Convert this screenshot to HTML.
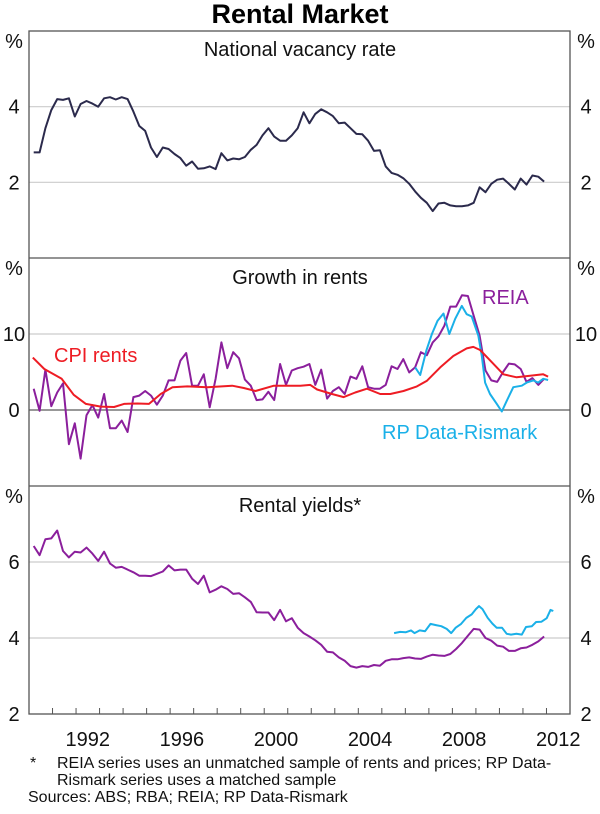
<!DOCTYPE html>
<html><head><meta charset="utf-8"><style>
html,body{margin:0;padding:0;background:#fff;}
body{width:600px;height:809px;overflow:hidden;font-family:"Liberation Sans",Arial,sans-serif;}
svg text{font-family:"Liberation Sans",Arial,sans-serif;}
</style></head><body>
<svg id="chart" width="600" height="809" viewBox="0 0 600 809" xmlns="http://www.w3.org/2000/svg">
<text x="300" y="23" text-anchor="middle" font-size="27" font-weight="bold" fill="#000">Rental Market</text>
<g id="grid"></g>
<g id="series"></g>
<g id="frame"></g>
<g id="labels"></g>
<text x="300" y="56" text-anchor="middle" font-size="20" fill="#111">National vacancy rate</text>
<text x="300" y="284" text-anchor="middle" font-size="20" fill="#111">Growth in rents</text>
<text x="300" y="512" text-anchor="middle" font-size="20" fill="#111">Rental yields*</text>
<text x="482" y="304" font-size="20" fill="#8b1f9c">REIA</text>
<text x="54" y="362" font-size="20" fill="#ee1c24">CPI rents</text>
<text x="382" y="439" font-size="20" fill="#1ab0e8">RP Data-Rismark</text>
<text x="30" y="768" font-size="16" fill="#111">*</text>
<text x="57" y="768" font-size="16" fill="#111">REIA series uses an unmatched sample of rents and prices; RP Data-</text>
<text x="57" y="785" font-size="16" fill="#111">Rismark series uses a matched sample</text>
<text x="28" y="802" font-size="16" fill="#111">Sources: ABS; RBA; REIA; RP Data-Rismark</text>
</svg>
<script>
// ---- data ----
const xStartYear = 1990, xEndYear = 2013;
const xTickLabels = ["1992","1996","2000","2004","2008","2012"];
const quarterlyStart = 1990.2, quarterlyEnd = 2011.9;
const vacancy = [2.79,2.79,3.43,3.91,4.2,4.18,4.22,3.74,4.07,4.15,4.08,4.0,4.22,4.25,4.19,4.25,4.2,3.87,3.49,3.36,2.92,2.67,2.92,2.88,2.75,2.64,2.44,2.55,2.36,2.37,2.42,2.35,2.77,2.58,2.63,2.61,2.67,2.86,2.99,3.24,3.43,3.21,3.1,3.1,3.24,3.43,3.85,3.56,3.81,3.93,3.85,3.75,3.56,3.58,3.43,3.28,3.27,3.1,2.83,2.85,2.42,2.25,2.2,2.11,1.96,1.76,1.59,1.46,1.24,1.44,1.46,1.39,1.37,1.37,1.39,1.46,1.87,1.74,1.96,2.07,2.1,1.96,1.81,2.1,1.94,2.18,2.15,2.02];
const reiaGrowth = [2.8,-0.1,5.3,0.5,2.3,3.5,-4.5,-1.75,-6.4,-0.7,0.65,-1,2.1,-2.4,-2.4,-1.4,-2.9,1.7,1.9,2.5,1.9,0.7,1.9,3.9,3.9,6.5,7.5,3.2,3.2,4.7,0.35,4.1,8.9,5.5,7.6,6.8,4.0,3.2,1.3,1.4,2.4,1.3,6.05,3.3,5.2,5.5,5.7,6.05,3.3,5.3,1.5,2.5,3.0,2.1,4.4,4.1,5.75,3.0,2.8,2.8,3.3,5.75,5.4,6.7,4.95,5.6,7.6,7.2,8.9,9.7,11.1,13.6,13.6,15.1,15.0,12.4,9.8,5.2,3.9,3.7,5.0,6.1,6.0,5.4,3.7,4.2,3.3,4.1];
const cpiYears = [1990.16,1990.65,1991.39,1991.9,1992.42,1993.05,1993.62,1994.04,1994.61,1995.1,1995.6,1996.1,1996.73,1997.58,1998.64,1999.13,1999.63,2000.41,2001.54,2001.96,2002.25,2002.88,2003.38,2003.87,2004.37,2004.93,2005.36,2005.92,2006.49,2006.92,2007.48,2008.04,2008.61,2008.89,2009.18,2009.67,2010.17,2010.73,2011.3,2011.86,2012.07];
const cpiGrowth = [6.9,5.4,4.1,2.0,0.8,0.45,0.4,0.8,0.85,0.8,2.1,3.0,3.1,3.0,3.2,2.9,2.5,3.2,3.2,3.3,2.7,2.1,1.7,2.3,2.8,2.1,2.1,2.5,3.1,3.85,5.6,7.1,8.1,8.3,7.9,6.3,4.7,4.3,4.5,4.7,4.4];
const rpGrowthYears = [2006.42,2006.63,2006.89,2007.13,2007.37,2007.62,2007.87,2008.12,2008.4,2008.61,2008.82,2009.1,2009.25,2009.39,2009.6,2009.89,2010.1,2010.31,2010.59,2010.95,2011.16,2011.44,2011.65,2011.86,2012.07];
const rpGrowth = [5.6,4.6,7.8,10.0,11.75,12.7,10.0,12.0,13.7,12.6,12.3,9.8,7.1,3.6,2.1,0.8,-0.2,1.2,3.0,3.2,3.6,3.9,3.6,4.1,3.95];
const reiaYield = [6.42,6.18,6.6,6.62,6.83,6.29,6.12,6.27,6.25,6.38,6.22,6.03,6.27,5.96,5.85,5.87,5.8,5.73,5.64,5.64,5.63,5.69,5.75,5.91,5.78,5.8,5.8,5.56,5.42,5.64,5.2,5.27,5.36,5.29,5.16,5.18,5.07,4.95,4.68,4.67,4.67,4.47,4.74,4.44,4.52,4.27,4.13,4.04,3.94,3.82,3.64,3.62,3.49,3.4,3.26,3.22,3.26,3.24,3.29,3.27,3.4,3.44,3.44,3.47,3.49,3.46,3.45,3.51,3.56,3.54,3.53,3.58,3.71,3.87,4.06,4.24,4.22,4.0,3.93,3.8,3.77,3.66,3.66,3.73,3.75,3.82,3.91,4.04];
const rpYieldYears = [2005.52,2005.78,2006.01,2006.24,2006.39,2006.61,2006.84,2007.07,2007.3,2007.53,2007.76,2007.95,2008.14,2008.37,2008.59,2008.82,2009.0,2009.13,2009.28,2009.5,2009.7,2009.88,2010.11,2010.31,2010.49,2010.72,2010.95,2011.13,2011.38,2011.56,2011.79,2012.01,2012.17,2012.29];
const rpYield = [4.13,4.16,4.15,4.2,4.13,4.2,4.18,4.37,4.34,4.31,4.24,4.13,4.27,4.37,4.53,4.62,4.76,4.84,4.76,4.53,4.38,4.27,4.27,4.11,4.09,4.11,4.09,4.29,4.31,4.42,4.43,4.52,4.74,4.71];
const p1Ticks = [2,4], p2Ticks = [0,10], p3Ticks = [4,6];

// ---- layout ----
const L = 29, R = 570;
const panels = [
  {top:31, bottom:258, min:0, max:6, ticks:p1Ticks},
  {top:258, bottom:486, min:-10, max:20, ticks:p2Ticks},
  {top:486, bottom:714, min:2, max:8, ticks:p3Ticks}
];
const NS = "http://www.w3.org/2000/svg";
function xS(t){ return L + (t - xStartYear) / (xEndYear - xStartYear) * (R - L); }
function yS(p, v){ return p.bottom - (v - p.min) / (p.max - p.min) * (p.bottom - p.top); }
function mk(tag, attrs, parent){ const e = document.createElementNS(NS, tag); for (const k in attrs) e.setAttribute(k, attrs[k]); parent.appendChild(e); return e; }
function qYears(n){ const a = []; for (let i = 0; i < n; i++) a.push(quarterlyStart + (quarterlyEnd - quarterlyStart) * i / (n - 1)); return a; }

const grid = document.getElementById('grid');
const frame = document.getElementById('frame');
const labels = document.getElementById('labels');
const series = document.getElementById('series');

panels.forEach((p, pi) => {
  p.ticks.forEach(v => {
    const y = yS(p, v);
    const g = mk('line', {x1:L, x2:R, y1:y, y2:y, stroke: v === 0 ? '#777' : '#ccc', 'stroke-width': v === 0 ? 1.5 : 1.2}, grid);
    
    
    const tl = mk('text', {x:14, y:y+7, 'text-anchor':'middle', 'font-size':20, fill:'#111'}, labels);
    tl.textContent = v;
    
    
    const tr = mk('text', {x:586, y:y+7, 'text-anchor':'middle', 'font-size':20, fill:'#111'}, labels);
    tr.textContent = v;
    
    
  });
  const pl = mk('text', {x:14, y:p.top+17, 'text-anchor':'middle', 'font-size':20, fill:'#111'}, labels);
  pl.textContent = '%';
  
  
  const pr = mk('text', {x:586, y:p.top+17, 'text-anchor':'middle', 'font-size':20, fill:'#111'}, labels);
  pr.textContent = '%';
  
  
  if (pi > 0) {
    const s = mk('line', {x1:L, x2:R, y1:p.top, y2:p.top, stroke:'#555', 'stroke-width':1.3}, frame);
    
    
  }
});
const bl = mk('text', {x:14, y:721, 'text-anchor':'middle', 'font-size':20, fill:'#111'}, labels);
bl.textContent = '2';


const br = mk('text', {x:586, y:721, 'text-anchor':'middle', 'font-size':20, fill:'#111'}, labels);
br.textContent = '2';



const box = mk('rect', {x:L, y:31, width:R-L, height:714-31, fill:'none', stroke:'#555', 'stroke-width':1.3}, frame);



for (let yr = xStartYear + 1; yr < xEndYear; yr++) {
  const x = xS(yr);
  const t = mk('line', {x1:x, x2:x, y1:714, y2:708, stroke:'#555', 'stroke-width':1}, frame);
  
  
}
xTickLabels.forEach(lbl => {
  const yr = +lbl;
  const t = mk('text', {x:xS(yr + 0.5), y:746, 'text-anchor':'middle', 'font-size':20, fill:'#111'}, labels);
  t.textContent = lbl;
  
  
});

function line(p, years, vals, color, name){
  const d = vals.map((v, i) => (i ? 'L' : 'M') + xS(years[i]).toFixed(1) + ' ' + yS(p, v).toFixed(1)).join(' ');
  const e = mk('path', {d:d, fill:'none', stroke:color, 'stroke-width':2, 'stroke-linejoin':'round'}, series);
  
  
}
line(panels[0], qYears(vacancy.length), vacancy, '#2b2a4c', 'vacancy-rate-line');
line(panels[1], qYears(reiaGrowth.length), reiaGrowth, '#8b1f9c', 'reia-growth-line');
line(panels[1], rpGrowthYears, rpGrowth, '#1ab0e8', 'rp-data-growth-line');
line(panels[1], cpiYears, cpiGrowth, '#ee1c24', 'cpi-rents-line');
line(panels[2], qYears(reiaYield.length), reiaYield, '#8b1f9c', 'reia-yield-line');
line(panels[2], rpYieldYears, rpYield, '#1ab0e8', 'rp-data-yield-line');
</script>
</body></html>
